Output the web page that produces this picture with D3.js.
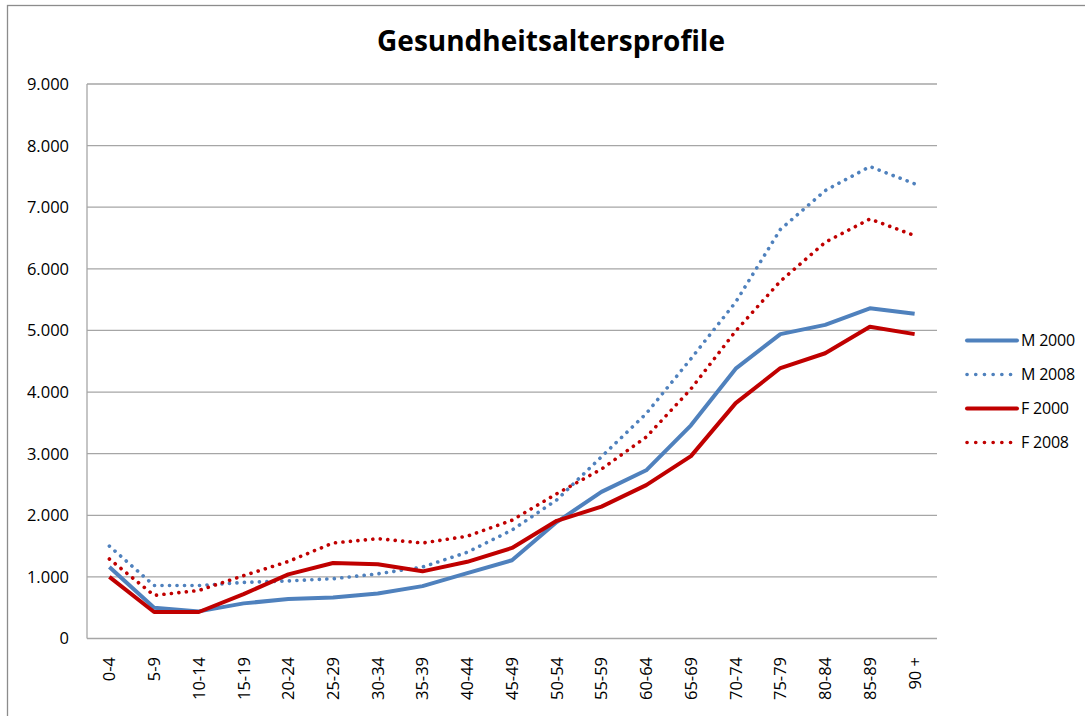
<!doctype html>
<html>
    <head>
        <meta charset="utf-8">
        <title>Gesundheitsaltersprofile</title>
        <script src="https://d3js.org/d3.v7.min.js"></script>
        <style type="text/css">
            body { margin:0; background:#fff; }
            text { font-family:"Open Sans", sans-serif; fill:#000; }
        </style>
    </head>
    <body>
      <svg></svg>
      <script type="text/javascript">

        let categories = ['0-4', '5-9', '10-14', '15-19', '20-24', '25-29', '30-34', '35-39', '40-44',
                          '45-49', '50-54', '55-59', '60-64', '65-69', '70-74', '75-79', '80-84', '85-89', '90 +'];

        let m2000 = [1160, 500, 440, 570, 640, 665, 730, 850, 1060, 1270, 1890, 2380, 2730, 3460, 4380, 4940, 5090, 5360, 5270];
        let m2008 = [1500, 860, 860, 910, 935, 970, 1050, 1160, 1400, 1760, 2250, 2950, 3650, 4540, 5460, 6640, 7270, 7660, 7380];
        let f2000 = [1000, 430, 430, 720, 1040, 1225, 1205, 1090, 1245, 1470, 1910, 2140, 2490, 2960, 3820, 4390, 4630, 5060, 4940];
        let f2008 = [1290, 700, 780, 1020, 1250, 1550, 1620, 1550, 1660, 1920, 2350, 2750, 3270, 4050, 4990, 5800, 6430, 6810, 6540];

        let yTicks = [0, 1000, 2000, 3000, 4000, 5000, 6000, 7000, 8000, 9000];

        let series = [
            { name: 'M 2000', values: m2000, color: '#4f81bd', dotted: false },
            { name: 'M 2008', values: m2008, color: '#4f81bd', dotted: true },
            { name: 'F 2000', values: f2000, color: '#c00000', dotted: false },
            { name: 'F 2008', values: f2008, color: '#c00000', dotted: true }
        ];

        let w = 1085,
            h = 716,
            plotLeft = 87,
            plotRight = 937,
            plotTop = 84,
            plotBottom = 638.5;

        let svg = d3.select('svg')
                    .attr('width', w)
                    .attr('height', h);

        // chart frame
        svg.append('rect')
           .attr('x', 7.5)
           .attr('y', 5.5)
           .attr('width', 1100)
           .attr('height', 1100)
           .attr('fill', 'none')
           .attr('stroke', '#8c8c8c')
           .attr('stroke-width', 1.3);

        let xScale = d3.scaleBand()
                       .domain(categories)
                       .range([plotLeft, plotRight]);
        let yScale = d3.scaleLinear()
                       .domain([0, 9000])
                       .range([plotBottom, plotTop]);

        // grid
        svg.selectAll('line.grid')
           .data(yTicks)
           .enter()
           .append('line')
           .attr('class', 'grid')
           .attr('x1', plotLeft)
           .attr('x2', plotRight)
           .attr('y1', function(d) { return yScale(d); })
           .attr('y2', function(d) { return yScale(d); })
           .attr('stroke', '#a6a6a6')
           .attr('stroke-width', 1.3);

        svg.append('line')
           .attr('x1', plotLeft).attr('x2', plotLeft)
           .attr('y1', plotTop).attr('y2', plotBottom)
           .attr('stroke', '#a6a6a6')
           .attr('stroke-width', 1.3);

        // y labels
        let fmt = d3.formatLocale({ decimal: ',', thousands: '.', grouping: [3], currency: ['', '€'] }).format(',.0f');
        svg.selectAll('text.ylab')
           .data(yTicks)
           .enter()
           .append('text')
           .attr('class', 'ylab')
           .attr('x', 69)
           .attr('y', function(d) { return yScale(d); })
           .attr('dy', '0.36em')
           .attr('text-anchor', 'end')
           .style('font-size', '16.5px')
           .text(function(d) { return d === 0 ? '0' : fmt(d); });

        // x labels
        svg.selectAll('text.xlab')
           .data(categories)
           .enter()
           .append('text')
           .attr('class', 'xlab')
           .attr('transform', function(d) {
               return 'translate(' + (xScale(d) + xScale.bandwidth() / 2) + ',657) rotate(-90)';
           })
           .attr('dy', '0.36em')
           .attr('text-anchor', 'end')
           .style('font-size', '16.5px')
           .text(function(d) { return d; });

        let line = d3.line()
                     .x(function(d, i) { return xScale(categories[i]) + xScale.bandwidth() / 2; })
                     .y(function(d) { return yScale(d); });

        svg.selectAll('path.series')
           .data(series)
           .enter()
           .append('path')
           .attr('class', 'series')
           .attr('d', function(d) { return line(d.values); })
           .attr('fill', 'none')
           .attr('stroke', function(d) { return d.color; })
           .attr('stroke-width', function(d) { return d.dotted ? 3.6 : 4; })
           .attr('stroke-linecap', function(d) { return d.dotted ? 'round' : 'butt'; })
           .attr('stroke-linejoin', 'round')
           .attr('stroke-dasharray', function(d) { return d.dotted ? '0.1 7.4' : null; });

        // legend
        let legend = svg.selectAll('g.legend')
                        .data(series)
                        .enter()
                        .append('g')
                        .attr('class', 'legend')
                        .attr('transform', function(d, i) { return 'translate(967,' + (340.5 + i * 34) + ')'; });
        legend.append('line')
              .attr('x1', 0)
              .attr('x2', 50)
              .attr('stroke', function(d) { return d.color; })
              .attr('stroke-width', function(d) { return d.dotted ? 3.6 : 4; })
              .attr('stroke-linecap', 'round')
              .attr('stroke-dasharray', function(d) { return d.dotted ? '0.1 8.6' : null; });
        legend.append('text')
              .attr('x', 54)
              .attr('dy', '0.36em')
              .style('font-size', '16px')
              .style('letter-spacing', '-0.2px')
              .text(function(d) { return d.name; });

        // title
        svg.append('text')
           .attr('x', 551)
           .attr('y', 51)
           .attr('text-anchor', 'middle')
           .style('font-size', '28px')
           .style('font-weight', 'bold')
           .text('Gesundheitsaltersprofile');
        </script>
    </body>
</html>
